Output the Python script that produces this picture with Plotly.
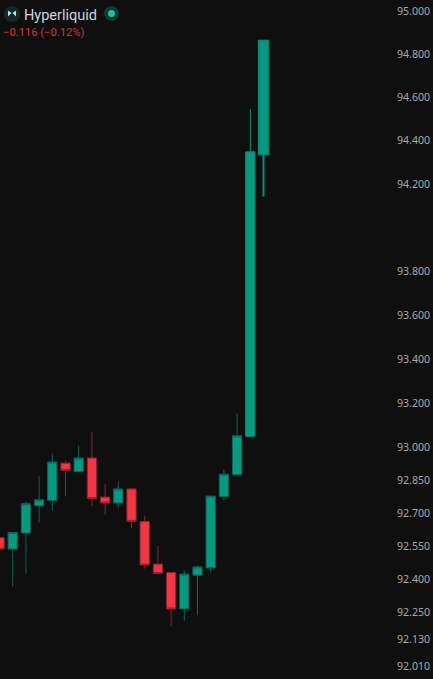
import math
import plotly.graph_objects as go

idx = list(range(-1, 20))
opens = [92.588, 92.537, 92.609, 92.733, 92.757, 92.926, 92.888, 92.949, 92.772, 92.745, 92.809, 92.661, 92.469, 92.431, 92.267,
         92.419, 92.452, 92.774, 92.873, 93.048, 94.339]
closes = [92.537, 92.612, 92.742, 92.760, 92.931, 92.893, 92.949, 92.765, 92.745, 92.809, 92.662, 92.465, 92.427, 92.267, 92.424,
          92.456, 92.777, 92.876, 93.050, 94.349, 94.862]
highs = [92.588, 92.612, 92.751, 92.866, 92.971, 92.937, 93.006, 93.067, 92.833, 92.842, 92.813, 92.688, 92.552, 92.431, 92.439,
         92.462, 92.777, 92.896, 93.150, 94.546, 94.862]
lows = [92.537, 92.368, 92.425, 92.657, 92.710, 92.778, 92.888, 92.733, 92.692, 92.723, 92.632, 92.449, 92.427, 92.187, 92.214,
        92.238, 92.431, 92.757, 92.873, 93.048, 94.143]

tick_values = [95.0, 94.8, 94.6, 94.4, 94.2, 93.8, 93.6, 93.4, 93.2, 93.0, 92.85, 92.7, 92.55, 92.4, 92.25, 92.13, 92.01]
tick_labels = ["95.000", "94.800", "94.600", "94.400", "94.200", "93.800", "93.600", "93.400", "93.200", "93.000",
               "92.850", "92.700", "92.550", "92.400", "92.250", "92.130", "92.010"]

title_text = "Hyperliquid"
change_text = "\u22120.116 (\u22120.12%)"

UP = "#089981"
DOWN = "#f23645"
W, H, PLOT_W = 433, 679, 393

fig = go.Figure()


def add_candles(a, b, up_line, down_line, width):
    fig.add_trace(go.Candlestick(
        x=idx[a:b], open=opens[a:b], high=highs[a:b], low=lows[a:b], close=closes[a:b],
        increasing=dict(fillcolor=UP, line=dict(color=up_line, width=width)),
        decreasing=dict(fillcolor=DOWN, line=dict(color=down_line, width=width)),
        showlegend=False, hoverinfo="skip"))


add_candles(0, 19, "#0b6659", "#8c2430", 1)
add_candles(19, 20, "#0a8c78", "#8c2430", 1)
add_candles(20, 21, "#0a8c78", "#8c2430", 2)


def px(x):
    return x / PLOT_W


def py(y):
    return 1 - y / H


shapes = [
    dict(type="circle", xref="paper", yref="paper", x0=px(4), x1=px(20), y0=py(22), y1=py(6),
         fillcolor="#1c2526", line=dict(width=0)),
    dict(type="circle", xref="paper", yref="paper", x0=px(104), x1=px(119), y0=py(21), y1=py(6),
         fillcolor="#123a35", line=dict(width=0)),
    dict(type="circle", xref="paper", yref="paper", x0=px(108), x1=px(115), y0=py(17), y1=py(10),
         fillcolor="#2fb8a0", line=dict(width=0)),
    dict(type="path", xref="paper", yref="paper",
         path=f"M {px(8)} {py(10.5)} L {px(11.5)} {py(13)} L {px(8)} {py(16.5)} Z",
         fillcolor="#8ff5e4", line=dict(width=0)),
    dict(type="path", xref="paper", yref="paper",
         path=f"M {px(16)} {py(10.5)} L {px(12.5)} {py(13)} L {px(16)} {py(16.5)} Z",
         fillcolor="#8ff5e4", line=dict(width=0)),
]

annotations = [
    dict(text=title_text, xref="paper", yref="paper", x=px(22), y=py(15), xanchor="left", yanchor="middle",
         showarrow=False, font=dict(family="Roboto", size=14.5, color="#d1d4dc")),
    dict(text=change_text, xref="paper", yref="paper", x=px(0.5), y=py(32), xanchor="left", yanchor="middle",
         showarrow=False, font=dict(family="Roboto", size=11.2, color="#d8303f")),
]

SPACING = 13.2
X0 = 12.7
fig.update_layout(
    width=W, height=H, margin=dict(l=0, r=W - PLOT_W, t=0, b=0),
    paper_bgcolor="#0f0f0f", plot_bgcolor="#0f0f0f", boxgap=0.3, boxgroupgap=0,
    shapes=shapes, annotations=annotations,
    xaxis=dict(range=[-X0 / SPACING, (PLOT_W - X0) / SPACING], visible=False,
               rangeslider=dict(visible=False), fixedrange=True),
    yaxis=dict(type="log", side="right", range=[1.963560, 1.977957], showgrid=False, zeroline=False, showline=False,
               tickmode="array", tickvals=tick_values, ticktext=tick_labels, ticks="", ticklabelstandoff=3,
               tickfont=dict(family="Noto Sans", size=10.6, color="#a8a8a8"), fixedrange=True),
)

fig.write_html("out.html", config=dict(displayModeBar=False),
               post_script="document.body.style.margin='0';document.body.style.background='#0f0f0f';")
